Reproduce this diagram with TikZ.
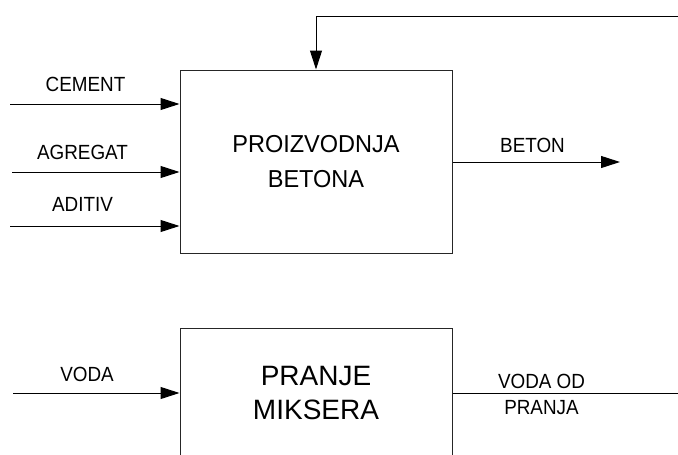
\documentclass[tikz,border=0pt]{standalone}
\usepackage{fontspec}
\setmainfont{Liberation Sans}
\newfontfamily\labfont[FakeStretch=0.92]{Liberation Sans}
\newfontfamily\boxfont[FakeStretch=0.96]{Liberation Sans}
\usetikzlibrary{arrows.meta}
\begin{document}
\begin{tikzpicture}[x=1pt,y=-1pt,
  proc/.style={draw=black!85,line width=1pt,rectangle,inner sep=0pt,align=center},
  lab/.style={inner sep=0pt,align=center,font=\labfont\fontsize{20.5}{26.5}\selectfont},
  flow/.style={line width=1pt,-{Triangle[length=19pt,width=12pt]}},
  plain/.style={line width=1pt}]
\useasboundingbox (0,0) rectangle (678,455);
% boxes
\node[proc,minimum width=272pt,minimum height=183pt,
  font=\boxfont\fontsize{24.5}{35}\selectfont] (b1) at (316,161.5) {PROIZVODNJA\\BETONA};
\node[proc,minimum width=272pt,minimum height=130pt,
  font=\fontsize{28}{34}\selectfont] (b2) at (316,393) {PRANJE\\MIKSERA};
% input start points
\coordinate (cem) at (10,104);
\coordinate (agr) at (12,172);
\coordinate (adi) at (10,226);
\coordinate (vod) at (13,393);
\coordinate (fb) at (678,16);
\coordinate (bet) at (620,162);
\coordinate (vodo) at (678,393);
% connectors
\draw[flow] (cem) -- (cem -| b1.west);
\draw[flow] (agr) -- (agr -| b1.west);
\draw[flow] (adi) -- (adi -| b1.west);
\draw[flow] (vod) -- (vod -| b2.west);
\draw[flow] (fb) -| (b1.north);
\draw[flow] (bet -| b1.east) -- (bet);
\draw[plain] (vodo -| b2.east) -- (vodo);
% labels
\node[lab] (lcem) at (85.5,84.5) {CEMENT};
\node[lab] (lagr) at (82.5,152.5) {AGREGAT};
\node[lab] (ladi) at (82.5,204.5) {ADITIV};
\node[lab] (lbet) at (532.5,145.5) {BETON};
\node[lab] (lvod) at (87,374.5) {VODA};
\node[lab] (lvodo) at (541.5,394.25) {VODA OD\\PRANJA};
\end{tikzpicture}
\end{document}
